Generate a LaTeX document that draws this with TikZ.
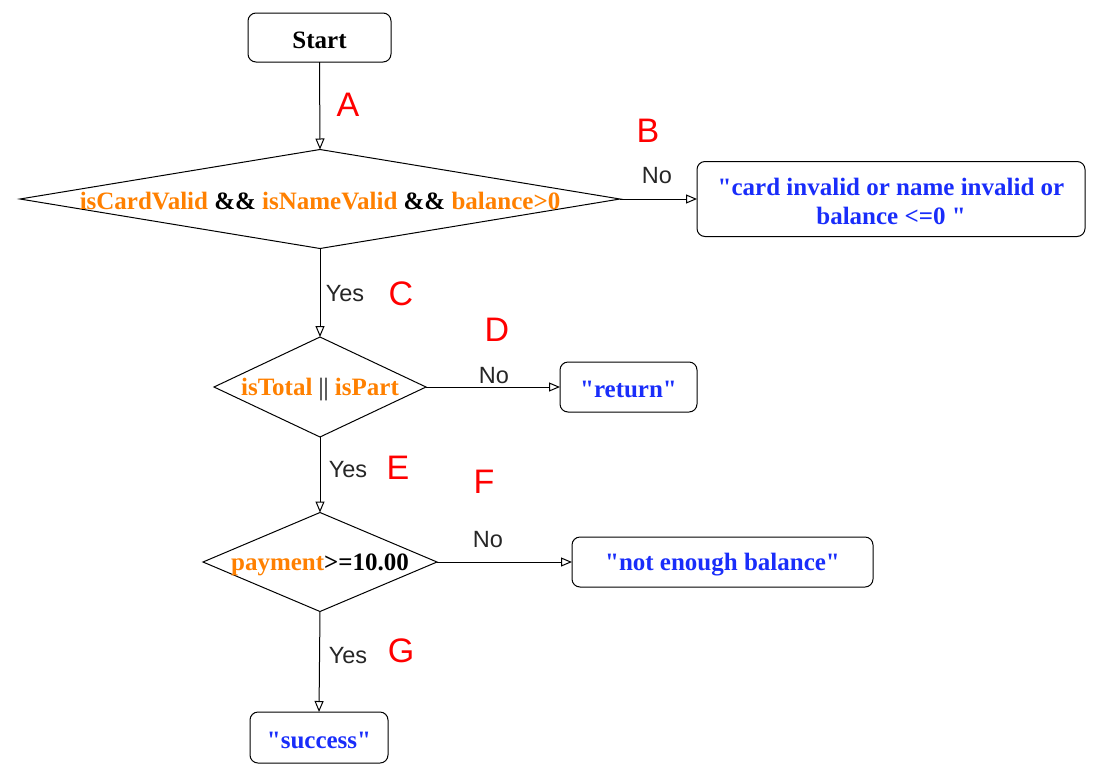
\documentclass[tikz,border=0pt]{standalone}
\usepackage{fontspec}
\setmainfont{Liberation Serif}[Ligatures=TeXOff]
\newfontfamily\labfont{Liberation Sans}
\usetikzlibrary{shapes.geometric,arrows.meta}
\definecolor{orng}{RGB}{255,128,0}
\definecolor{txtblue}{RGB}{25,45,250}
\definecolor{lblred}{RGB}{255,0,0}
\begin{document}
\begin{tikzpicture}[x=1pt,y=-1pt,
  box/.style={draw, rounded corners=8pt, line width=1pt, inner sep=0pt, outer sep=0pt},
  dia/.style={draw, diamond, line width=1pt, inner sep=0pt, outer sep=0pt},
  arr/.style={draw, line width=1pt, -{Triangle[open,length=11pt,width=9pt]}},
  btxt/.style={font=\fontsize{25}{29}\selectfont\bfseries, align=center, yshift=-2.5pt},
  lbl/.style={font=\labfont\fontsize{23.5}{26}\selectfont, text=black!85},
  redlbl/.style={font=\labfont\fontsize{34}{38}\selectfont, text=lblred}]
\path[use as bounding box] (0,0) rectangle (1113,777);

% nodes
\node[box, minimum width=143pt, minimum height=49pt] (start) at (319.5,37.5) {};
\node[btxt] at (start) {Start};

\node[dia, minimum width=600pt, minimum height=99pt] (d1) at (320,199) {};
\node[btxt] at (d1) {\textcolor{orng}{isCardValid} \&\& \textcolor{orng}{isNameValid} \&\& \textcolor{orng}{balance>0}};

\node[box, minimum width=388pt, minimum height=75pt] (b2) at (891,199) {};
\node[btxt, text=txtblue] at (b2) {"card invalid or name invalid or\\balance <=0 "};

\node[dia, minimum width=212pt, minimum height=100pt] (d2) at (320,387) {};
\node[btxt] at (d2) {\textcolor{orng}{isTotal} {\mdseries||} \textcolor{orng}{isPart}};

\node[box, minimum width=137pt, minimum height=50pt] (b3) at (628.5,387) {};
\node[btxt, text=txtblue] at (b3) {"return"};

\node[dia, minimum width=234pt, minimum height=99pt] (d3) at (320,562) {};
\node[btxt] at (d3) {\textcolor{orng}{payment}>=10.00};

\node[box, minimum width=301pt, minimum height=50pt] (b4) at (722.5,562) {};
\node[btxt, text=txtblue] at (b4) {"not enough balance"};

\node[box, minimum width=138pt, minimum height=51pt] (b5) at (319,737.5) {};
\node[btxt, text=txtblue] at (b5) {"success"};

% connectors
\draw[arr] (start.south) -- (d1.north);
\draw[arr] (d1.east) -- (b2.west);
\draw[arr] (d1.south) -- (d2.north);
\draw[arr] (d2.east) -- (b3.west);
\draw[arr] (d2.south) -- (d3.north);
\draw[arr] (d3.east) -- (b4.west);
\draw[arr] (d3.south) -- (b5.north);

% edge labels
\node[lbl] (no1) at (657,176) {No};
\node[lbl] (yes1) at (345,294) {Yes};
\node[lbl] (no2) at (494,376) {No};
\node[lbl] (yes2) at (348,470) {Yes};
\node[lbl] (no3) at (488,540) {No};
\node[lbl] (yes3) at (348,656) {Yes};

% red markers
\node[redlbl] (la) at (348,105) {A};
\node[redlbl] (lb) at (648,131) {B};
\node[redlbl] (lc) at (401,294) {C};
\node[redlbl] (ld) at (497,330) {D};
\node[redlbl] (le) at (398,468) {E};
\node[redlbl] (lf) at (484,482) {F};
\node[redlbl] (lg) at (401,651) {G};
\end{tikzpicture}
\end{document}
